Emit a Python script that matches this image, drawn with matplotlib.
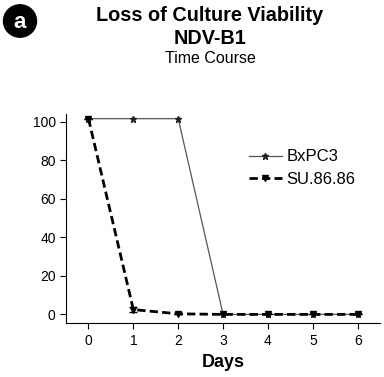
import numpy as np
import matplotlib.pyplot as plt
from matplotlib.patches import Circle

plt.rcParams['font.family'] = ['Liberation Sans', 'DejaVu Sans']

days = [0, 1, 2, 3, 4, 5, 6]
bxpc3 = [101.5, 101.5, 101.5, 0.0, 0.0, 0.0, 0.0]
su8686 = [101.5, 2.5, 0.3, 0.0, 0.0, 0.0, 0.0]
su8686_err = [0.0, 1.2, 0.0, 0.0, 0.0, 0.0, 0.0]
yticks = [0, 20, 40, 60, 80, 100]

fig = plt.figure(figsize=(3.84, 3.77), dpi=100)
ax = fig.add_axes([0.172, 0.143, 0.818, 0.555])

ax.plot(days, bxpc3, color='#555555', linewidth=0.9, marker='*',
        markersize=5, markerfacecolor='#222222', markeredgecolor='#222222',
        label='BxPC3')
ax.errorbar(days, su8686, yerr=su8686_err, fmt='none', ecolor='black',
            capsize=3, elinewidth=1)
ax.plot(days, su8686, color='black', linewidth=2,
        linestyle=(0, (3, 1.5)), marker='v', markersize=5, label='SU.86.86')

ax.set_xlim(-0.5, 6.5)
ax.set_ylim(-4.5, 104)
ax.set_xticks(days)
ax.set_yticks(yticks)
ax.tick_params(labelsize=10, length=4, width=0.8)
for s in ['top', 'right']:
    ax.spines[s].set_visible(False)
ax.set_xlabel('Days', fontsize=13, fontweight='bold', labelpad=5)

ax.legend(loc='upper left', bbox_to_anchor=(0.555, 0.87), frameon=False,
          fontsize=12, handlelength=2.0, handletextpad=0.25,
          labelspacing=0.45, borderpad=0)

fig.text(0.547, 0.96, 'Loss of Culture Viability', ha='center', va='center',
         fontsize=14.3, fontweight='bold')
fig.text(0.547, 0.898, 'NDV-B1', ha='center', va='center',
         fontsize=14.3, fontweight='bold')
fig.text(0.547, 0.845, 'Time Course', ha='center', va='center',
         fontsize=11.5)

fig.patches.append(Circle((20 / 384, 1 - 21 / 377), 0.043,
                          transform=fig.transFigure, color='black'))
fig.text(20 / 384, 1 - 22 / 377, 'a', ha='center', va='center',
         fontsize=16, fontweight='bold', color='white')

fig.savefig('out.png', dpi=100)
